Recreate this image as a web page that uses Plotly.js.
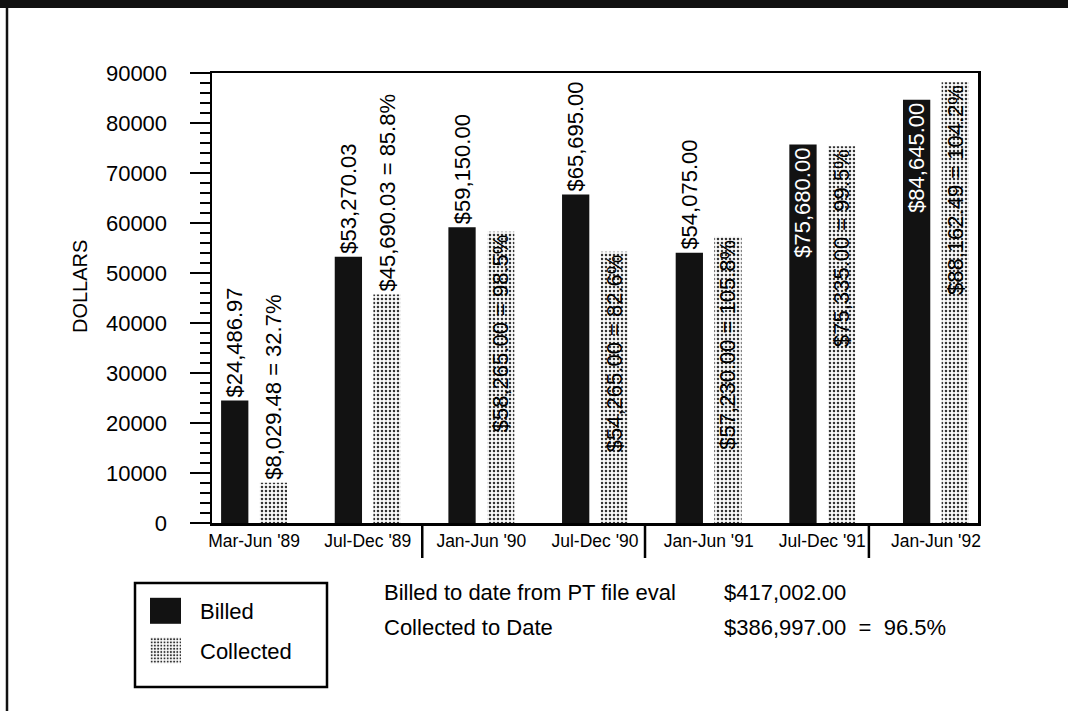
<!DOCTYPE html>
<html>
<head>
<meta charset="utf-8">
<script src="https://cdn.plot.ly/plotly-3.0.1.min.js"></script>
<style>
  html, body { margin: 0; padding: 0; background: #ffffff; }
  #chart { width: 1068px; height: 711px; }
</style>
</head>
<body>
<div id="chart"></div>
<script>
// Half-year periods
const periods = ["Mar-Jun '89", "Jul-Dec '89", "Jan-Jun '90", "Jul-Dec '90",
                 "Jan-Jun '91", "Jul-Dec '91", "Jan-Jun '92"];

// Dollars billed and collected per period
const billed    = [24486.97, 53270.03, 59150.00, 65695.00, 54075.00, 75680.00, 84645.00];
const collected = [8029.48, 45690.03, 58265.00, 54265.00, 57230.00, 75335.00, 88162.49];

// Collection rate printed beside each collected amount (percent)
const collectedPct = [32.7, 85.8, 98.5, 82.6, 105.8, 99.5, 104.2];

// Where each value label sits relative to its bar
const billedTextPos    = ['outside', 'outside', 'outside', 'outside', 'outside', 'inside', 'inside'];
const collectedTextPos = ['outside', 'outside', 'inside', 'inside', 'inside', 'inside', 'inside'];

// Running totals shown under the chart
const summaryLabels = ['Billed to date from PT file eval', 'Collected to Date'];
const summaryValues = ['$417,002.00', '$386,997.00  =  96.5%'];

// Value axis ticks
const yTicks = [0, 10000, 20000, 30000, 40000, 50000, 60000, 70000, 80000, 90000];

const FONT = 'Liberation Sans, Arial, Helvetica, sans-serif';
const money = v => '$' + v.toLocaleString('en-US', {minimumFractionDigits: 2, maximumFractionDigits: 2});

const billedText = billed.map(money);
const collectedText = collected.map((v, i) => money(v) + ' = ' + collectedPct[i].toFixed(1) + '%');

const traces = [
  {
    type: 'bar', name: 'Billed', legendgroup: 'billed',
    x: periods, y: billed,
    width: 0.24, offset: -0.29,
    marker: {color: '#121212', line: {width: 0}},
    text: billedText, textposition: billedTextPos,
    textangle: -90, insidetextanchor: 'end', constraintext: 'none', cliponaxis: false,
    textfont: {family: FONT, size: 22, color: '#000'},
    insidetextfont: {family: FONT, size: 22, color: '#fff'},
    outsidetextfont: {family: FONT, size: 22, color: '#000'},
    hoverinfo: 'skip'
  },
  {
    type: 'bar', name: 'Collected', legendgroup: 'collected',
    x: periods, y: collected,
    width: 0.24, offset: 0.05,
    marker: {
      color: '#ffffff', line: {width: 0},
      pattern: {shape: '.', fgcolor: '#333', bgcolor: '#fafafa', size: 4, solidity: 0.32}
    },
    text: collectedText, textposition: collectedTextPos,
    textangle: -90, insidetextanchor: 'end', constraintext: 'none', cliponaxis: false,
    textfont: {family: FONT, size: 22, color: '#000'},
    insidetextfont: {family: FONT, size: 22, color: '#000'},
    outsidetextfont: {family: FONT, size: 22, color: '#000'},
    hoverinfo: 'skip'
  }
];

// Pixel helpers for placing page furniture in paper coordinates
const L = 212, T = 73, W = 766, H = 450;
const px = x => (x - L) / W;
const py = y => (T + H - y) / H;

const shapes = [
  // page border: heavy top band and left rule
  {type: 'rect', xref: 'paper', yref: 'paper', x0: px(0), x1: px(1068), y0: py(8), y1: py(0),
   fillcolor: '#111', line: {width: 0}},
  {type: 'line', xref: 'paper', yref: 'paper', x0: px(7), x1: px(7), y0: py(8), y1: py(711),
   line: {color: '#111', width: 2.5}},
  // year separators under the category axis
  ...[1.48, 3.44, 5.41].map(x => ({
    type: 'line', xref: 'x', yref: 'paper', x0: x, x1: x, y0: 0, y1: py(558),
    line: {color: '#000', width: 2.5}
  })),
  // legend frame
  {type: 'rect', xref: 'paper', yref: 'paper', x0: px(135), x1: px(327), y0: py(687), y1: py(583),
   line: {color: '#000', width: 2.5}, fillcolor: 'rgba(0,0,0,0)'}
];

const annotations = [
  {xref: 'paper', yref: 'paper', x: px(80), y: py(287), text: 'DOLLARS', textangle: -90,
   showarrow: false, font: {family: FONT, size: 20, color: '#000'}, xanchor: 'center', yanchor: 'middle'},
  ...summaryLabels.map((t, i) => ({
    xref: 'paper', yref: 'paper', x: px(382), y: py(592 + 35 * i), text: t, showarrow: false,
    xanchor: 'left', yanchor: 'middle', font: {family: FONT, size: 22, color: '#000'}
  })),
  ...summaryValues.map((t, i) => ({
    xref: 'paper', yref: 'paper', x: px(722), y: py(592 + 35 * i), text: t.replace(/  /g, '&nbsp; '), showarrow: false,
    xanchor: 'left', yanchor: 'middle', font: {family: FONT, size: 22, color: '#000'}
  }))
];

const layout = {
  width: 1068, height: 711,
  margin: {l: L, r: 1068 - L - W, t: T, b: 711 - T - H, pad: 0},
  paper_bgcolor: '#ffffff', plot_bgcolor: '#ffffff',
  barmode: 'overlay',
  font: {family: FONT, color: '#000'},
  xaxis: {
    type: 'category', range: [-0.37, 6.37], fixedrange: true,
    showline: true, linecolor: '#000', linewidth: 2.5, mirror: true,
    ticks: '', showgrid: false, zeroline: false,
    tickfont: {family: FONT, size: 17.5, color: '#000'}, ticklabelstandoff: 0
  },
  yaxis: {
    range: [0, 90000], fixedrange: true, tickvals: yTicks, tickformat: 'd',
    showline: true, linecolor: '#000', linewidth: 2.5, mirror: true,
    ticks: 'outside', ticklen: 20, tickwidth: 2.5, tickcolor: '#000',
    showgrid: false, zeroline: false,
    tickfont: {family: FONT, size: 22, color: '#000'}, ticklabelstandoff: 18,
    minor: {dtick: 2000, ticks: 'outside', ticklen: 10, tickwidth: 2, tickcolor: '#000', showgrid: false}
  },
  showlegend: true,
  legend: {
    x: px(145), y: py(590), xanchor: 'left', yanchor: 'top',
    bgcolor: 'rgba(0,0,0,0)', borderwidth: 0, tracegroupgap: 8, itemwidth: 45,
    font: {family: FONT, size: 22, color: '#000'}, itemclick: false, itemdoubleclick: false
  },
  shapes: shapes,
  annotations: annotations
};

Plotly.newPlot('chart', traces, layout, {staticPlot: true, displayModeBar: false}).then(gd => {
  // larger legend swatches, set left of the item text
  gd.querySelectorAll('.legendpoints path').forEach(p => p.setAttribute('d', 'M8.5,13H-22.5V-13H8.5Z'));
});
</script>
</body>
</html>
